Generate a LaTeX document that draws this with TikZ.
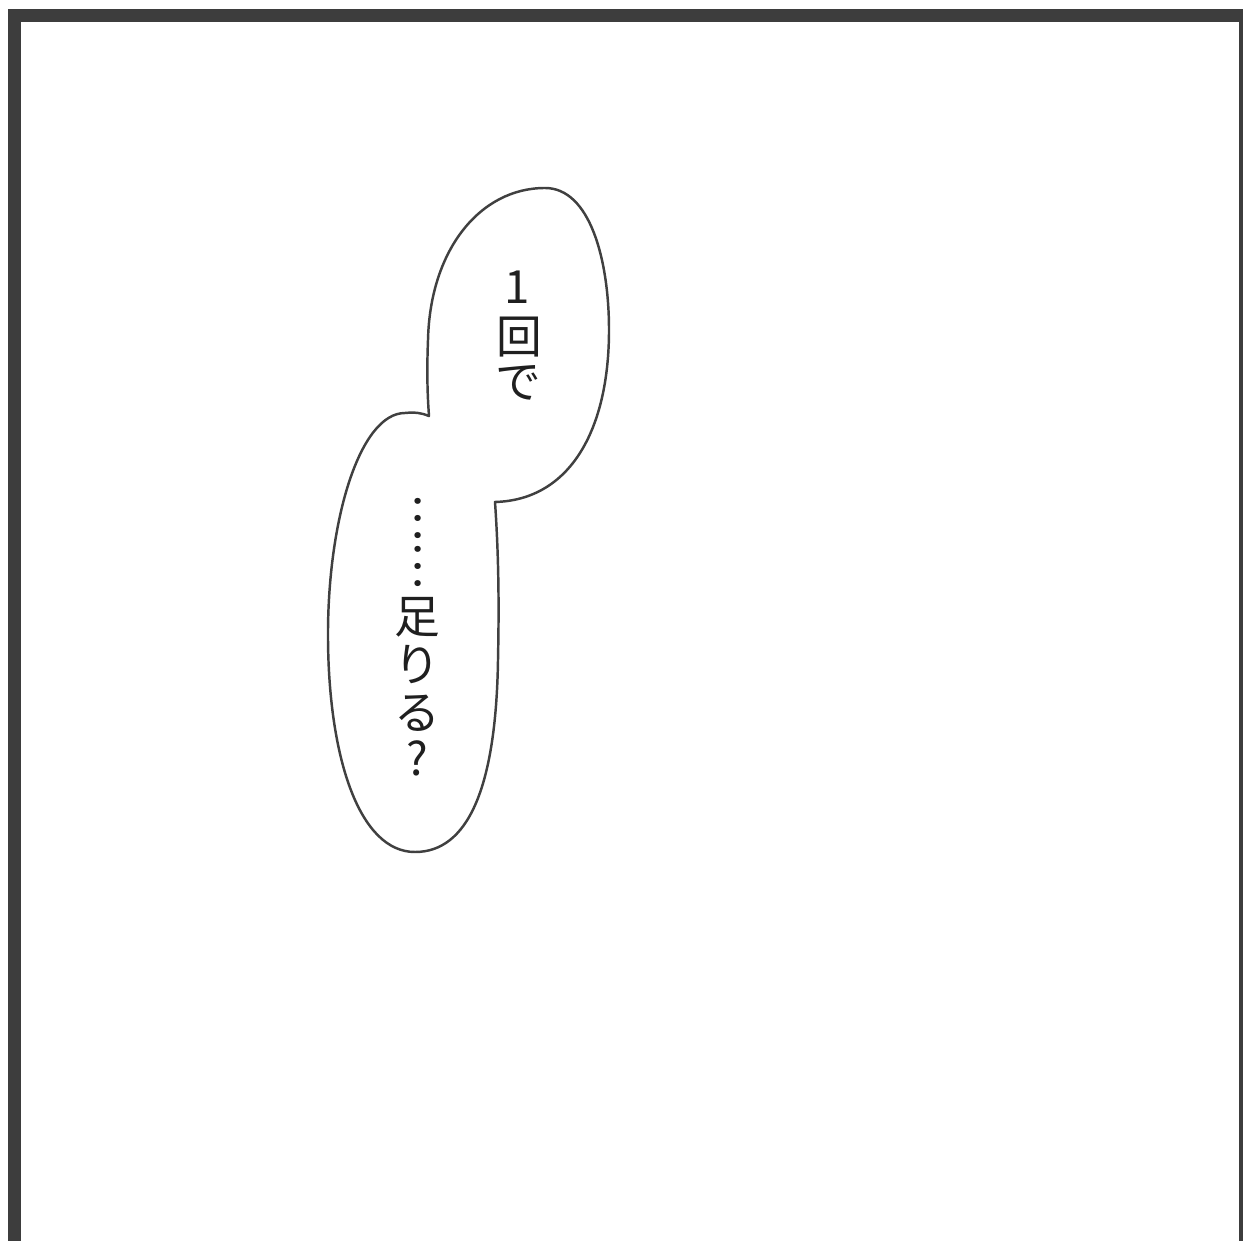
\documentclass[tikz,border=0pt]{standalone}
\usepackage{fontspec}
\usepackage{graphicx}
\newfontfamily\jpfont{Noto Sans CJK JP}

\begin{document}
\begin{tikzpicture}
        \begin{scope}[x=0.1mm,y=-0.1mm]

          \tikzstyle{panel} = [line width=1.3mm, draw=black!76]
          \tikzstyle{bubble} = [line width=0.7pt, draw=black!75, fill=white, line join=round]
          \tikzstyle{vchar} = [inner sep=0pt, text=black!88, font=\jpfont\fontsize{13}{13}\selectfont]

          \fill[white] (0,0) rectangle (1243,1241);
          \useasboundingbox (0,0) rectangle (1243,1241);
          \clip (0,0) rectangle (1243,1241);

          \draw[panel] (14.5,16) rectangle (1245,1300);

          % upper lobe, then lower lobe
          \draw[bubble] (429,416) .. controls (427,390) and (427,365) .. (428,340)
            .. controls (430,250) and (480,188) .. (545,188)
            .. controls (590,188) and (609,260) .. (609,330)
            .. controls (609,430) and (570,500) .. (495,502)
            .. controls (499,560) and (499,610) .. (498,660)
            .. controls (496,790) and (467,852) .. (415,852)
            .. controls (360,852) and (329,760) .. (328,640)
            .. controls (327,520) and (360,413) .. (405,413)
            .. controls (415,412) and (422,413) .. (429,416) -- cycle;

          \node[vchar] (c1) at (517,287) {1};
          \node[vchar] (c2) at (519,337) {回};
          \node[vchar] (c3) at (518,383) {で};

          \node[vchar] (d1) at (418,542) {\rotatebox{-90}{……}};
          \node[vchar] (d2) at (417,617) {足};
          \node[vchar] (d3) at (417,665) {り};
          \node[vchar] (d4) at (417,713) {る};
          \node[vchar] (d5) at (417,758) {?};

        \end{scope}
      \end{tikzpicture}
\end{document}
